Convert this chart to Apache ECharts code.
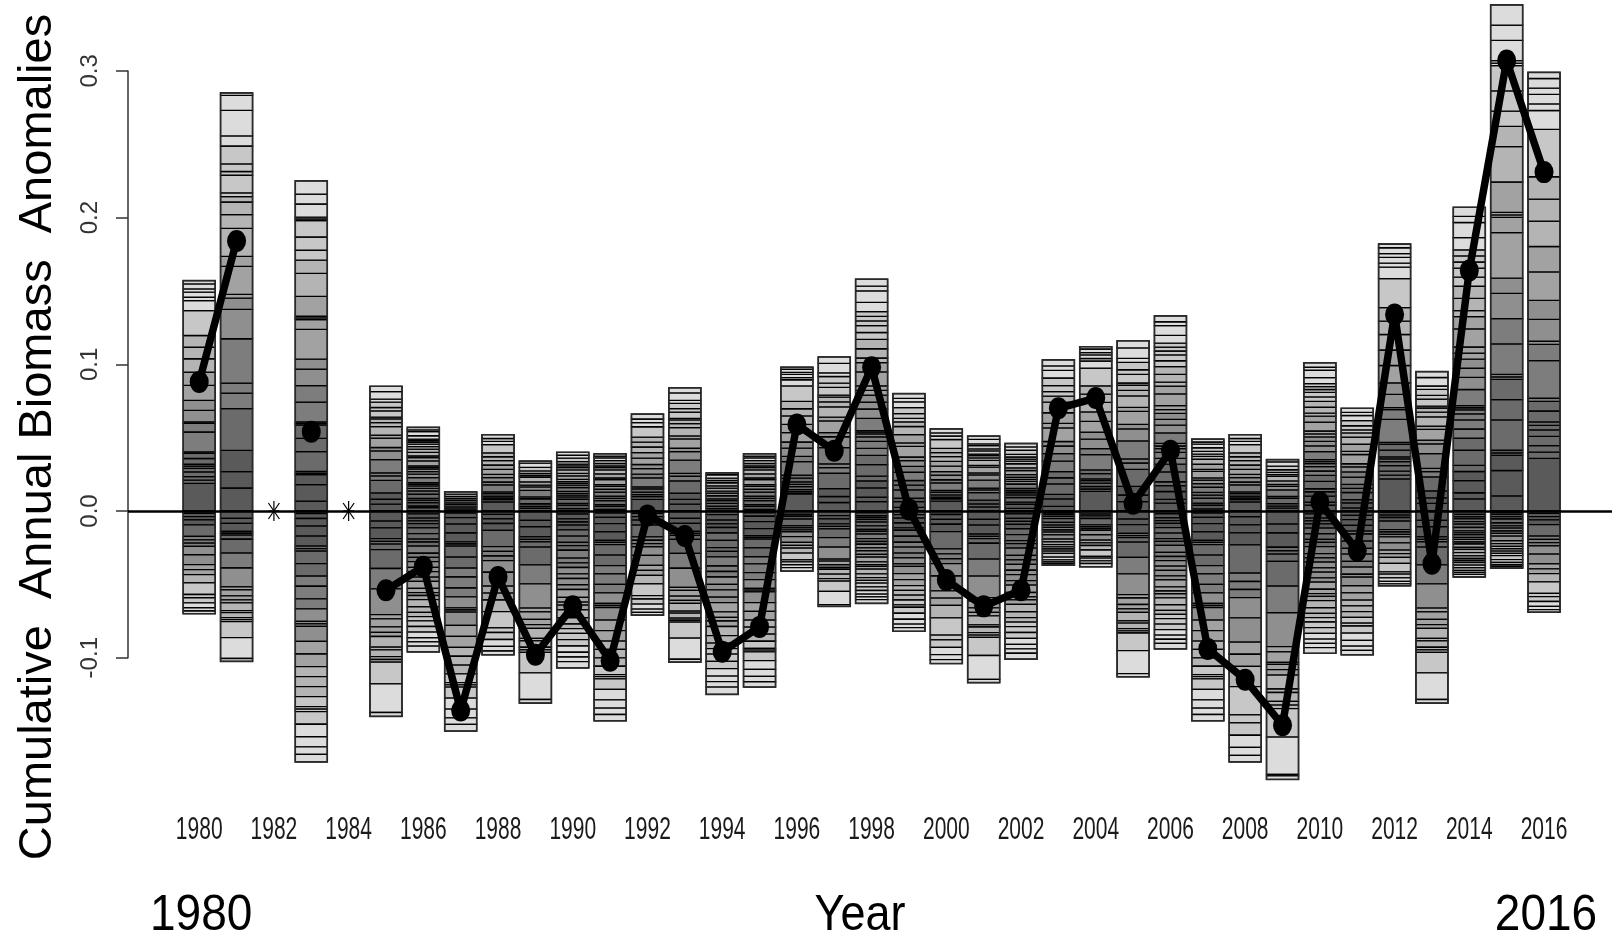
<!DOCTYPE html>
<html>
<head>
<meta charset="utf-8">
<script src="https://cdn.jsdelivr.net/npm/echarts@6/dist/echarts.min.js"></script>
<style>
html,body{margin:0;padding:0;background:#fff;}
#chart{width:1612px;height:937px;}
</style>
</head>
<body>
<div id="chart"></div>
<script>
// ---- data ----
const years = [1980,1981,1982,1983,1984,1985,1986,1987,1988,1989,1990,1991,1992,1993,1994,1995,1996,1997,1998,1999,2000,2001,2002,2003,2004,2005,2006,2007,2008,2009,2010,2011,2012,2013,2014,2015,2016];
const meanAnom = [0.088,0.184,null,0.054,null,-0.054,-0.038,-0.136,-0.045,-0.098,-0.065,-0.102,-0.003,-0.017,-0.096,-0.079,0.059,0.041,0.098,0.001,-0.047,-0.065,-0.054,0.070,0.077,0.005,0.041,-0.094,-0.115,-0.146,0.006,-0.027,0.134,-0.036,0.164,0.307,0.231];
const barTop = [0.157,0.285,null,0.225,null,0.085,0.057,0.013,0.052,0.034,0.040,0.039,0.066,0.084,0.026,0.039,0.098,0.105,0.158,0.080,0.056,0.051,0.046,0.103,0.112,0.116,0.133,0.049,0.052,0.035,0.101,0.070,0.182,0.095,0.207,0.345,0.299];
const barBottom = [-0.070,-0.1025,null,-0.171,null,-0.140,-0.096,-0.150,-0.098,-0.131,-0.107,-0.143,-0.071,-0.103,-0.125,-0.120,-0.041,-0.065,-0.063,-0.082,-0.104,-0.117,-0.101,-0.037,-0.038,-0.113,-0.094,-0.143,-0.171,-0.183,-0.097,-0.098,-0.051,-0.131,-0.045,-0.039,-0.069];
const missingYears = [1982,1984];
const tickYears = [1980,1982,1984,1986,1988,1990,1992,1994,1996,1998,2000,2002,2004,2006,2008,2010,2012,2014,2016];
const yTicks = [-0.1,0.0,0.1,0.2,0.3];
// stripe boundaries (fraction of each half bar)
const posStripes = [
 [0.12,0.134,0.149,0.17,0.185,0.195,0.203,0.228,0.25,0.257,0.343,0.38,0.387,0.437,0.48,0.545,0.603,0.661,0.711,0.762,0.87,0.913,0.928,0.95,0.964,0.986],
 [0.055,0.094,0.145,0.245,0.282,0.306,0.412,0.482,0.509,0.518,0.585,0.609,0.676,0.709,0.739,0.752,0.761,0.803,0.812,0.830,0.873,0.897,0.958,0.994],
 [0.04,0.06,0.1,0.13,0.15,0.2,0.24,0.27,0.3,0.32,0.333,0.34,0.347,0.4,0.44,0.47,0.5,0.52,0.54,0.6,0.64,0.66,0.7,0.74,0.77,0.8,0.82,0.84,0.86,0.9,0.95,0.97],
 [0.03,0.08,0.11,0.115,0.12,0.18,0.22,0.26,0.265,0.27,0.33,0.38,0.43,0.46,0.55,0.58,0.585,0.59,0.65,0.72,0.76,0.79,0.83,0.88,0.885,0.89,0.93,0.96]
];
const negStripes = [
 [0.023,0.055,0.087,0.135,0.248,0.281,0.313,0.345,0.426,0.523,0.571,0.619,0.7,0.813,0.845,0.894,0.942,0.974],
 [0.049,0.082,0.135,0.148,0.161,0.188,0.28,0.379,0.505,0.525,0.564,0.571,0.591,0.611,0.663,0.676,0.709,0.723,0.736,0.842,0.981,0.987],
 [0.02,0.05,0.07,0.09,0.12,0.16,0.2,0.22,0.25,0.3,0.33,0.36,0.4,0.43,0.47,0.5,0.55,0.58,0.6,0.63,0.68,0.72,0.75,0.78,0.82,0.86,0.9,0.93,0.96],
 [0.01,0.03,0.06,0.1,0.14,0.15,0.16,0.21,0.26,0.3,0.35,0.39,0.44,0.45,0.46,0.52,0.57,0.62,0.66,0.7,0.74,0.78,0.79,0.8,0.85,0.9,0.94,0.97]
];

// ---- styling ----
const grays = ['#5a5a5a','#6b6b6b','#7d7d7d','#8f8f8f','#a2a2a2','#b4b4b4','#c7c7c7','#dcdcdc'];
const FONT = '"Liberation Sans", Arial, Helvetica, sans-serif';
const BAR_W = 0.857;

const barData = [];
years.forEach((y, i) => {
  if (barTop[i] !== null) barData.push([y, barTop[i], barBottom[i], i % 4]);
});
const lineData = years.map((y, i) => [y, meanAnom[i] === null ? '-' : meanAnom[i]]);

function addPart(children, x0, w, y0, yEnd, bounds) {
  const all = [0].concat(bounds, [1]);
  const len = yEnd - y0;
  const kept = [0];
  let lastPx = 0;
  for (let k = 1; k < all.length - 1; k++) {
    const px = all[k] * len;
    if (Math.abs(px - lastPx) >= 1.6 && Math.abs(len - px) >= 1.6) { kept.push(all[k]); lastPx = px; }
  }
  kept.push(1);
  for (let k = 0; k < kept.length - 1; k++) {
    const fa = kept[k], fb = kept[k + 1];
    const mid = (fa + fb) / 2;
    const ya = y0 + fa * len, yb = y0 + fb * len;
    children.push({
      type: 'rect',
      shape: { x: x0, y: Math.min(ya, yb), width: w, height: Math.abs(yb - ya) },
      style: { fill: grays[Math.min(7, Math.floor(mid * 8))], stroke: '#000', lineWidth: 1.3 }
    });
  }
}

function renderBar(params, api) {
  const yr = api.value(0), tp = api.value(1), bt = api.value(2), pi = api.value(3);
  const w = api.size([BAR_W, 0])[0];
  const c0 = api.coord([yr, 0]);
  const x0 = c0[0] - w / 2;
  const yTop = api.coord([yr, tp])[1];
  const yBot = api.coord([yr, bt])[1];
  const children = [];
  addPart(children, x0, w, c0[1], yTop, posStripes[pi]);
  addPart(children, x0, w, c0[1], yBot, negStripes[pi]);
  children.push({
    type: 'rect',
    shape: { x: x0, y: yTop, width: w, height: yBot - yTop },
    style: { fill: 'none', stroke: '#2a2a2a', lineWidth: 1.6 }
  });
  return { type: 'group', children };
}

function renderStar(params, api) {
  const c = api.coord([api.value(0), api.value(1)]);
  const s = { stroke: '#000', lineWidth: 1.2 };
  const L = (x1, y1, x2, y2) => ({ type: 'line', shape: { x1: c[0] + x1, y1: c[1] + y1, x2: c[0] + x2, y2: c[1] + y2 }, style: s });
  return { type: 'group', children: [L(0, -10, 0, 10), L(-5.5, -8, 5.5, 8), L(5.5, -8, -5.5, 8), L(-5.5, 0, 5.5, 0)] };
}

function renderYearLabel(params, api) {
  const c = api.coord([api.value(0), 0]);
  return {
    type: 'text', x: c[0], y: 831, scaleY: 1.45,
    style: { text: String(api.value(0)), font: '21px ' + FONT, fill: '#1a1a1a', align: 'center', verticalAlign: 'middle', textAlign: 'center', textVerticalAlign: 'middle' }
  };
}

function renderBigLabel(params, api) {
  const c = api.coord([api.value(0), 0]);
  return {
    type: 'text', x: c[0] + 2, y: 916, scaleY: 1.1,
    style: { text: String(api.value(0)), font: '46px ' + FONT, fill: '#000', align: 'center', verticalAlign: 'middle', textAlign: 'center', textVerticalAlign: 'middle' }
  };
}

const chart = echarts.init(document.getElementById('chart'), null, { renderer: 'canvas' });
const option = {
  backgroundColor: '#fff',
  animation: false,
  grid: [
    { left: 128, right: 0, top: 12.2, bottom: 132.6 },
    { left: 128, width: 10, top: 70.9, height: 586.8 }
  ],
  xAxis: [
    { type: 'value', gridIndex: 0, min: 1978.094, max: 2017.82, show: false },
    { type: 'value', gridIndex: 1, min: 0, max: 1, show: false }
  ],
  yAxis: [
    { type: 'value', gridIndex: 0, min: -0.2, max: 0.34, show: false },
    {
      type: 'value', gridIndex: 1, min: -0.1, max: 0.3, interval: 0.1,
      axisLine: { show: true, lineStyle: { color: '#333', width: 1.5 } },
      axisTick: { show: true, inside: false, length: 12, lineStyle: { color: '#333', width: 1.5 } },
      axisLabel: {
        show: true, rotate: 90, margin: 26, fontSize: 24, fontFamily: FONT, color: '#333',
        formatter: v => (Math.abs(v) < 1e-9 ? 0 : v).toFixed(1)
      },
      splitLine: { show: false }
    }
  ],
  graphic: [
    {
      type: 'text', x: 38, y: 437, rotation: Math.PI / 2,
      style: { text: 'Cumulative  Annual Biomass  Anomalies', font: '47px ' + FONT, fill: '#000', align: 'center', verticalAlign: 'middle', textAlign: 'center', textVerticalAlign: 'middle' }
    },
    {
      type: 'text', x: 860, y: 916, scaleY: 1.1,
      style: { text: 'Year', font: '45px ' + FONT, fill: '#000', align: 'center', verticalAlign: 'middle', textAlign: 'center', textVerticalAlign: 'middle' }
    }
  ],
  series: [
    {
      type: 'custom', name: 'bars', xAxisIndex: 0, yAxisIndex: 0, z: 2, clip: false,
      renderItem: renderBar, data: barData, silent: true
    },
    {
      type: 'line', name: 'zero', xAxisIndex: 0, yAxisIndex: 0, z: 3, data: [],
      markLine: {
        silent: true, symbol: ['none', 'none'], label: { show: false },
        lineStyle: { color: '#000', width: 2.5, type: 'solid' },
        data: [{ yAxis: 0 }]
      }
    },
    {
      type: 'custom', name: 'missing', xAxisIndex: 0, yAxisIndex: 0, z: 4,
      renderItem: renderStar, data: missingYears.map(y => [y, 0]), silent: true
    },
    {
      type: 'line', name: 'mean', xAxisIndex: 0, yAxisIndex: 0, z: 5,
      data: lineData, connectNulls: false, showSymbol: true, showAllSymbol: true,
      symbol: 'circle', symbolSize: [19, 22],
      itemStyle: { color: '#000' },
      lineStyle: { color: '#000', width: 7.5 },
      silent: true
    },
    {
      type: 'custom', name: 'yearLabels', xAxisIndex: 0, yAxisIndex: 0, z: 6, clip: false,
      renderItem: renderYearLabel, data: tickYears.map(y => [y]), silent: true
    },
    {
      type: 'custom', name: 'rangeLabels', xAxisIndex: 0, yAxisIndex: 0, z: 6, clip: false,
      renderItem: renderBigLabel, data: [[years[0]], [years[years.length - 1]]], silent: true
    }
  ]
};
chart.setOption(option);
</script>
</body>
</html>
